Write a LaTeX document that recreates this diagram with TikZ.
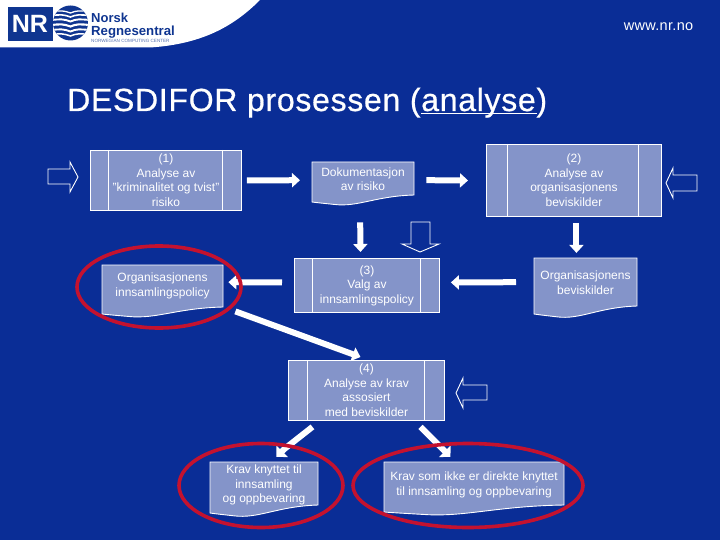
\documentclass[tikz,border=0pt]{standalone}
\usepackage{fontspec}
\setmainfont{Liberation Sans}
\newfontfamily\spacedfont[LetterSpace=2.2]{Liberation Sans}
\newfontfamily\titlefont[LetterSpace=2.2,FakeBold=0.6]{Liberation Sans}
\usetikzlibrary{arrows.meta,calc}
\definecolor{bgblue}{HTML}{0A2D96}
\definecolor{boxblue}{HTML}{8494C9}
\definecolor{ringred}{HTML}{C4122F}
\definecolor{logoblue}{HTML}{0F3590}
\tikzset{
  x=1pt,y=-1pt,
  label text/.style={text=white,align=center,inner sep=0pt,font=\fontsize{12}{14.5}\selectfont},
  procbox/.style={draw=white,line width=0.9pt,fill=boxblue,inner sep=0pt,anchor=north west},
  docframe/.style={draw=white,line width=0.9pt,fill=boxblue},
  flow/.style={draw=white,line width=6pt,-{Triangle[width=14pt,length=8pt]}},
  diagflow/.style={draw=white,line width=6pt,-{Triangle[width=16pt,length=8pt]}},
  hollow/.style={draw=white,line width=0.9pt,fill=bgblue,line join=miter},
  ring/.style={draw=ringred,line width=3.6pt}
}
% name, x1, y1, x2, y2, d1, d2, text
\newcommand{\procnode}[8]{%
  \node[procbox,minimum width=#4pt-#2pt,minimum height=#5pt-#3pt] (#1) at (#2,#3) {};
  \draw[white,line width=0.9pt] ($(#1.north west)+(#6-#2,0)$) -- ($(#1.south west)+(#6-#2,0)$);
  \draw[white,line width=0.9pt] ($(#1.north west)+(#7-#2,0)$) -- ($(#1.south west)+(#7-#2,0)$);
  \node[label text] (#1t) at (#1.center) {#8};
}
% name, x1, y1, x2, yright, yleft, text, text y
\newcommand{\docnode}[8]{%
  \path[docframe] (#2,#3) -- (#4,#3) -- (#4,#5)
    .. controls ({#2+0.62*(#4-#2)},{#5+0.16*(#6-#5)}) and ({#2+0.45*(#4-#2)},{#6+0.75*(#6-#5)}) .. ({#2+0.22*(#4-#2)},{#6+0.35*(#6-#5)})
    .. controls ({#2+0.12*(#4-#2)},{#6+0.2*(#6-#5)}) and ({#2+0.05*(#4-#2)},{#6+0.1*(#6-#5)}) .. (#2,#6) -- cycle;
  \node[inner sep=0pt,minimum width=#4pt-#2pt,minimum height=#5pt-#3pt,anchor=north west] (#1) at (#2,#3) {};
  \node[label text] (#1t) at ({(#2+#4)/2},#8) {#7};
}
\begin{document}
\begin{tikzpicture}
\useasboundingbox (0,0) rectangle (720,540);
\fill[bgblue] (0,0) rectangle (720,540);
% white header with logo
\fill[white] (0,0) -- (260,0) .. controls (236,24) and (205,44) .. (150,47.5) -- (0,47.5) -- cycle;
\fill[logoblue] (8,7) rectangle (53,41);
\node[text=white,inner sep=0pt,font=\fontsize{25}{25}\selectfont\bfseries] (nrtext) at (30,24) {NR};
\begin{scope}
  \clip (70.5,23) circle (17.5);
  \fill[logoblue] (52,5) rectangle (89,41);
  \foreach \yy/\lw in {11.5/1.3,15.5/1.6,20/1.9,25/2.1,30/1.9,34.5/1.5}{
    \draw[white,line width=\lw pt] (52,\yy) .. controls (60,\yy-1) and (64,\yy-1) .. (70.5,\yy+1.5) .. controls (76,\yy-1) and (80,\yy-1) .. (89,\yy);
  }
\end{scope}
\node[text=logoblue,inner sep=0pt,anchor=base west,font=\fontsize{13}{14}\selectfont\bfseries] (lognorsk) at (91,23) {Norsk};
\node[text=logoblue,inner sep=0pt,anchor=base west,font=\fontsize{13.2}{15}\selectfont\bfseries] (logregn) at (91,36) {Regnesentral};
\node[text=logoblue!70,inner sep=0pt,anchor=base west,font=\fontsize{4.6}{5}\selectfont] (logsub) at (91,42.5) {NORWEGIAN COMPUTING CENTER};
\node[text=white,inner sep=0pt,font=\spacedfont\fontsize{14.5}{15}\selectfont] (www) at (658.5,27) {www.nr.no};
\node[text=white,inner sep=0pt,anchor=base west,font=\titlefont\fontsize{32}{34}\selectfont] (title) at (67,111) {DESDIFOR prosessen (analyse)};
\node[inner sep=0pt,anchor=base west,font=\titlefont\fontsize{32}{34}\selectfont] (titlemark) at (title.base west) {\phantom{DESDIFOR prosessen (}};
\draw[white,line width=1.6pt] ($(titlemark.base east)+(0,2.5)$) -- ($(titlemark.base east)+(116,2.5)$);

% boxes
\procnode{pa}{90}{150}{241}{210}{108}{222}{(1)\\Analyse av\\"kriminalitet og tvist"\\risiko}
\procnode{pb}{486}{144}{661}{216}{507}{638}{(2)\\Analyse av\\organisasjonens\\beviskilder}
\procnode{pc}{294}{258}{439}{312}{312}{420}{(3)\\Valg av\\innsamlingspolicy}
\procnode{pd}{288}{360}{444}{420}{307}{424}{(4)\\Analyse av krav\\assosiert\\med beviskilder}
\docnode{da}{312}{162}{414}{195}{202}{Dokumentasjon\\av risiko}{179}
\docnode{db}{102}{265}{223}{307}{314}{Organisasjonens\\innsamlingspolicy}{286}
\docnode{dc}{534}{258}{637}{306}{314}{Organisasjonens\\beviskilder}{282.5}
\docnode{dd}{210}{462}{318}{505}{513}{Krav knyttet til\\innsamling\\og oppbevaring}{485}
\docnode{de}{384}{462}{564}{505}{512}{Krav som ikke er direkte knyttet\\til innsamling og oppbevaring}{485}

% connectors
\draw[flow] ($(pa.east)+(5,0)$) -- ($(da.west)+(-12,1.5)$);
\draw[flow] ($(da.east)+(12,1.5)$) -- ($(pb.west)+(-18,0)$);
\draw[flow] ($(da.south)+(-3,27)$) -- ($(pc.north)+(-6.5,-6)$);
\draw[flow] ($(pb.south)+(2.5,6)$) -- ($(pb.south)+(2.5,36)$);
\draw[flow] ($(dc.west)+(-18,0)$) -- ($(pc.east)+(11,-3)$);
\draw[flow] ($(pc.west)+(-12,-3)$) -- ($(db.east)+(5,-4)$);
\draw[flow] ($(db.south east)+(12,4)$) -- ($(pd.north)+(-6,-3)$);
\draw[diagflow] ($(pd.south)+(-54,6)$) -- ($(pd.south)+(-82,28)$) -- ($(pd.south)+(-90,36)$);
\draw[diagflow] ($(pd.south)+(54,6)$) -- ($(pd.south)+(84,36)$);

% hollow arrows
\path[hollow] (48,169) -- (70,169) -- (70,162) -- (78,177) -- (70,192) -- (70,184) -- (48,184) -- cycle;
\path[hollow] (697,175) -- (673,175) -- (673,168) -- (666,183) -- (673,198) -- (673,191) -- (697,191) -- cycle;
\path[hollow] (411,222) -- (430,222) -- (430,244) -- (439,244) -- (420,252) -- (402,244) -- (411,244) -- cycle;
\path[hollow] (487,385) -- (463,385) -- (463,378) -- (456,393) -- (463,408) -- (463,400) -- (487,400) -- cycle;

% rings
\draw[ring] (159,287) ellipse (82 and 41);
\draw[ring] (261,485.5) ellipse (82 and 42);
\draw[ring] (468,485.5) ellipse (115 and 42);
\end{tikzpicture}
\end{document}
